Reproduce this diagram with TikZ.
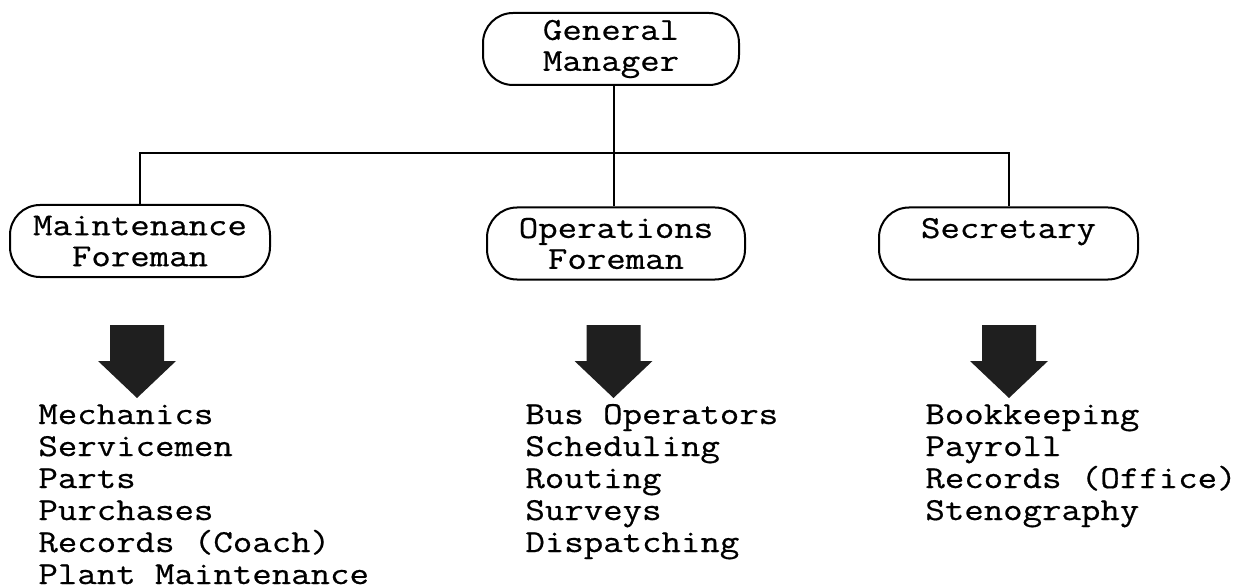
\documentclass[tikz,border=0pt]{standalone}
\usepackage{fontspec}
\newfontfamily\typewriter[FakeStretch=1.18,FakeBold=0.6]{Latin Modern Mono}
\begin{document}
\begin{tikzpicture}[x=0.5pt,y=-0.5pt,
  every node/.style={font=\typewriter\fontsize{16pt}{15.5pt}\selectfont},
  role/.style={draw, line width=1pt, rounded corners=15pt, align=center,
    inner sep=0pt, minimum height=36pt},
  link/.style={line width=1pt},
  bigarrow/.style={fill=black!88, draw=none},
  duties/.style={anchor=base west, align=left, inner sep=0pt,
    font=\typewriter\fontsize{16pt}{16pt}\selectfont}]
\useasboundingbox (0,0) rectangle (1236,588);

% positions of the roles
\node[role, minimum width=128pt] (gm) at (611,49) {General\\Manager};
\node[role, minimum width=130pt] (mf) at (140,241) {Maintenance\\Foreman};
\node[role, minimum width=129pt] (of) at (616,243.5) {Operations\\Foreman};
\node[role, minimum width=129.5pt] (sf) at (1008.5,243.5) {Secretary\\\mbox{}};

% reporting lines
\coordinate (bus) at (614,153);
\draw[link] (gm.south -| bus) -- (bus);
\draw[link] (mf.north) |- (bus) -| (sf.north);
\draw[link] (of.north -| bus) -- (bus);

% block arrows pointing at each list of duties
\foreach \cx in {137,613.5,1009}{
  \fill[bigarrow] (\cx-27,325) -- (\cx+27,325) -- (\cx+27,361) -- (\cx+39,361)
    -- (\cx,398) -- (\cx-39,361) -- (\cx-27,361) -- cycle;
}

% duties under each role (anchored at the baseline of the last line)
\node[duties] (mlist) at (38,584) {Mechanics\\Servicemen\\Parts\\Purchases\\Records (Coach)\\Plant Maintenance};
\node[duties] (olist) at (525,552) {Bus Operators\\Scheduling\\Routing\\Surveys\\Dispatching};
\node[duties] (slist) at (925,520) {Bookkeeping\\Payroll\\Records (Office)\\Stenography};
\end{tikzpicture}
\end{document}
